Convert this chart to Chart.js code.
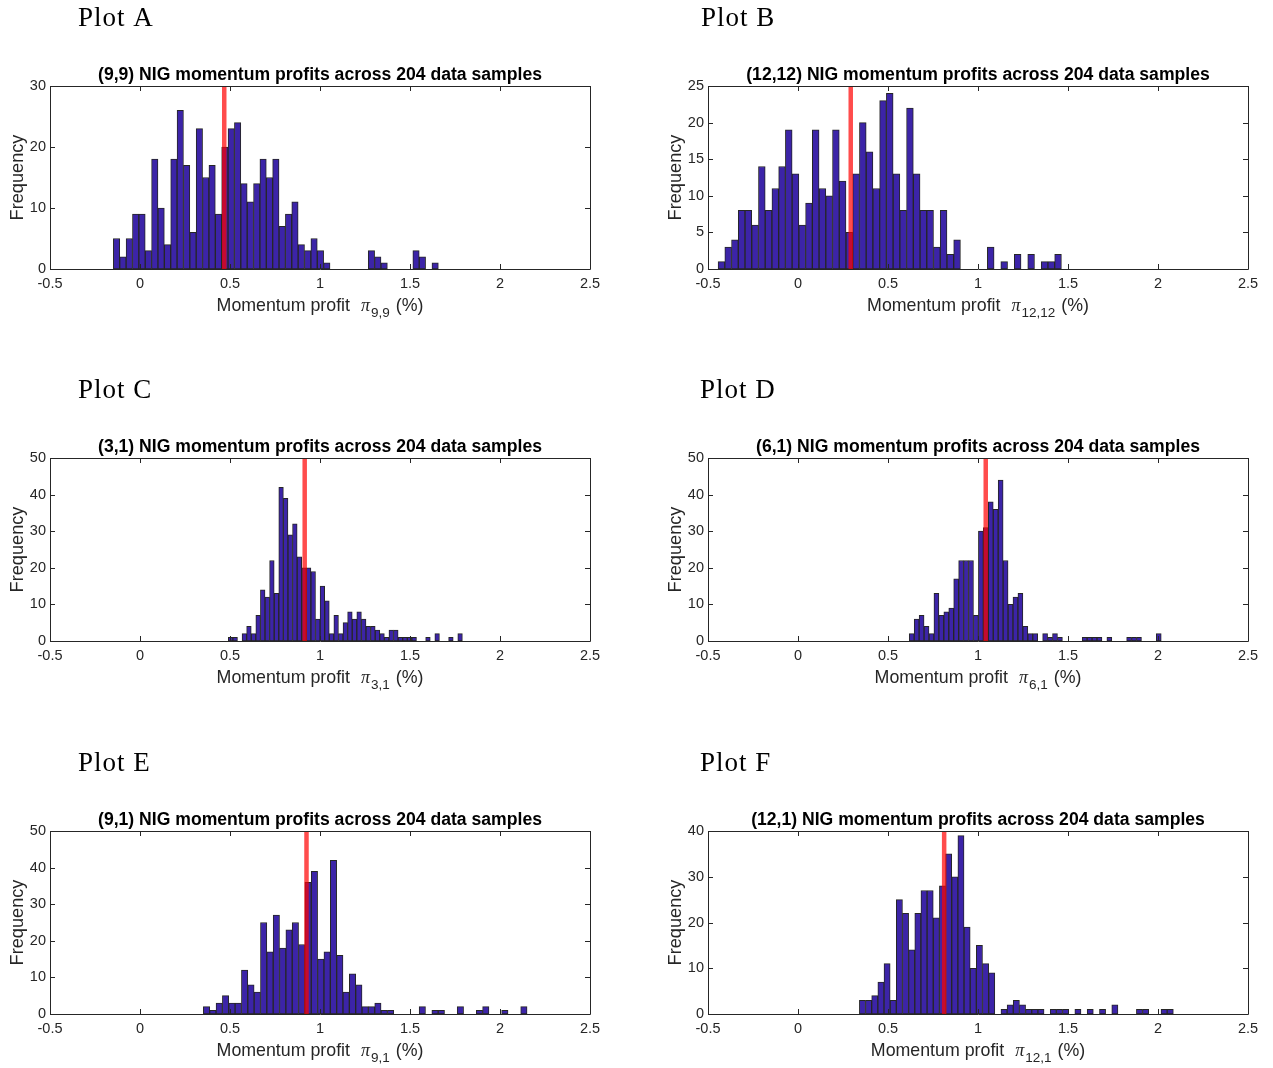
<!DOCTYPE html>
<html>
<head>
<meta charset="utf-8">
<title>NIG momentum profits</title>
<script src="https://cdn.jsdelivr.net/npm/chart.js@4.4.1/dist/chart.umd.min.js"></script>
<style>
  html, body { margin: 0; padding: 0; background: #fff; overflow: hidden; }
  body { width: 1273px; height: 1068px; position: relative; }
  canvas { position: absolute; }
</style>
</head>
<body>
<canvas id="plotA" width="636" height="323" style="left:0;top:0"></canvas>
<canvas id="plotB" width="615" height="323" style="left:658px;top:0"></canvas>
<canvas id="plotC" width="636" height="323" style="left:0;top:372px"></canvas>
<canvas id="plotD" width="615" height="323" style="left:658px;top:372px"></canvas>
<canvas id="plotE" width="636" height="323" style="left:0;top:745px"></canvas>
<canvas id="plotF" width="615" height="323" style="left:658px;top:745px"></canvas>
<script>
// bin counts (51 bins each), first bin edge, bin width and sample mean, all in %
const countsA = [5,2,5,9,9,3,18,10,4,18,26,17,6,23,15,17,9,20,23,24,14,11,14,18,15,18,7,9,11,4,3,5,3,1,0,0,0,0,0,0,3,2,1,0,0,0,0,3,2,0,1];
const countsB = [1,3,4,8,8,6,14,8,11,14,19,13,6,9,19,11,10,19,12,5,13,20,16,11,23,24,13,8,22,13,8,8,3,8,2,4,0,0,0,0,3,0,1,0,2,0,2,0,1,1,2];
const countsC = [1,1,0,2,4,2,7,14,12,22,13,42,39,29,32,23,20,20,19,6,15,11,2,7,2,5,8,6,8,6,4,4,3,2,1,3,3,1,1,1,1,0,0,1,0,2,0,0,1,0,2];
const countsD = [2,6,7,4,2,13,7,8,9,17,22,22,22,7,30,31,38,36,44,22,10,12,13,4,2,2,0,2,1,2,1,0,0,0,0,1,1,1,1,0,1,0,0,0,1,1,1,0,0,0,2];
const countsE = [2,1,3,5,3,3,12,8,6,25,17,27,18,23,25,19,36,39,15,17,42,16,6,11,8,2,2,3,1,1,0,0,0,0,2,0,1,1,0,0,2,0,0,1,2,0,0,1,0,0,2];
const countsF = [3,3,4,7,11,3,25,22,14,22,27,27,21,28,35,30,39,19,10,15,11,9,0,1,2,3,2,1,1,1,0,1,1,1,0,1,0,1,0,1,0,2,0,0,0,1,1,0,0,1,1];

const binStart = [-0.148, -0.444, 0.4905, 0.618, 0.352, 0.341];
const binWidth = [0.0354, 0.0374, 0.0255, 0.02745, 0.03526, 0.0342];
const means = [0.468, 0.293, 0.915, 1.043, 0.925, 0.812];

const pairs = ['9,9', '12,12', '3,1', '6,1', '9,1', '12,1'];
const plotNames = ['Plot A', 'Plot B', 'Plot C', 'Plot D', 'Plot E', 'Plot F'];
const yMax = [30, 25, 50, 50, 50, 40];
const yStep = [10, 5, 10, 10, 10, 10];
const xTicks = [-0.5, 0, 0.5, 1, 1.5, 2, 2.5];

const SANS = '"Liberation Sans", Arial, Helvetica, sans-serif';
const SERIF = '"Liberation Serif", "Times New Roman", serif';
const AXIS_GREY = '#262626';

// box, inward ticks on all four sides, title, labels
const matlabAxes = {
  id: 'matlabAxes',
  afterDraw(chart, args, o) {
    const { ctx, chartArea: a, scales: { x, y } } = chart;
    ctx.save();
    ctx.strokeStyle = AXIS_GREY;
    ctx.lineWidth = 1;
    ctx.beginPath();
    ctx.rect(a.left + 0.5, a.top + 0.5, a.right - a.left, a.bottom - a.top);
    x.ticks.forEach(t => {
      const px = Math.round(x.getPixelForValue(t.value)) + 0.5;
      ctx.moveTo(px, a.bottom); ctx.lineTo(px, a.bottom - 5);
      ctx.moveTo(px, a.top); ctx.lineTo(px, a.top + 5);
    });
    y.ticks.forEach(t => {
      const py = Math.round(y.getPixelForValue(t.value)) + 0.5;
      ctx.moveTo(a.left, py); ctx.lineTo(a.left + 5, py);
      ctx.moveTo(a.right, py); ctx.lineTo(a.right - 5, py);
    });
    ctx.stroke();

    const cx = (a.left + a.right) / 2;

    // panel caption
    ctx.fillStyle = '#000';
    ctx.font = '27px ' + SERIF;
    ctx.letterSpacing = '1px';
    ctx.textAlign = 'left';
    ctx.textBaseline = 'alphabetic';
    ctx.fillText(o.name, o.nameX, 26);
    ctx.letterSpacing = '0px';

    // title
    ctx.font = 'bold 17.6px ' + SANS;
    ctx.textAlign = 'center';
    ctx.textBaseline = 'middle';
    ctx.fillText('(' + o.pair + ') NIG momentum profits across 204 data samples', cx, 75);

    // y label
    ctx.fillStyle = AXIS_GREY;
    ctx.font = '18.2px ' + SANS;
    ctx.save();
    ctx.translate(18, (a.top + a.bottom) / 2);
    ctx.rotate(-Math.PI / 2);
    ctx.fillText('Frequency', 0, 0);
    ctx.restore();

    // x label: Momentum profit  π_{pair} (%)
    const parts = [
      { t: 'Momentum profit', f: '17.8px ' + SANS, dy: 0, gap: 11 },
      { t: 'π', f: 'italic 18px ' + SERIF, dy: 0, gap: 1 },
      { t: o.pair, f: '13.5px ' + SANS, dy: 6, gap: 6 },
      { t: '(%)', f: '17.8px ' + SANS, dy: 0, gap: 0 }
    ];
    let total = 0;
    parts.forEach(p => { ctx.font = p.f; p.w = ctx.measureText(p.t).width; total += p.w + p.gap; });
    let xx = cx - total / 2;
    ctx.textAlign = 'left';
    ctx.textBaseline = 'alphabetic';
    parts.forEach(p => {
      ctx.font = p.f;
      ctx.fillText(p.t, xx, 311 + p.dy);
      xx += p.w + p.gap;
    });
    ctx.restore();
  }
};

function histogram(id, i, counts, nameX, rightPad) {
  const bars = counts.map((c, k) => ({ x: binStart[i] + (k + 0.5) * binWidth[i], y: c }));
  const meanLine = [{ x: means[i], y: 0 }, { x: means[i], y: yMax[i] }];
  new Chart(document.getElementById(id), {
    type: 'bar',
    data: {
      datasets: [
        {
          type: 'line',
          data: meanLine,
          borderColor: 'rgba(255,0,0,0.7)',
          borderWidth: 4.5,
          pointRadius: 0,
          order: 0
        },
        {
          data: bars,
          backgroundColor: '#3c24a8',
          borderColor: '#262626',
          borderWidth: 1,
          borderSkipped: false,
          categoryPercentage: 1.0,
          barPercentage: 1.0,
          order: 1
        }
      ]
    },
    options: {
      responsive: false,
      animation: false,
      layout: { padding: { left: 0, right: rightPad, top: 86, bottom: 0 } },
      plugins: {
        legend: { display: false },
        tooltip: { enabled: false },
        matlabAxes: { name: plotNames[i], nameX: nameX, pair: pairs[i] }
      },
      scales: {
        x: {
          type: 'linear',
          offset: false,
          min: -0.5,
          max: 2.5,
          afterBuildTicks: s => { s.ticks = xTicks.map(v => ({ value: v })); },
          afterFit: s => { s.height = 54; },
          grid: { display: false, drawTicks: false },
          border: { display: false },
          ticks: {
            color: AXIS_GREY,
            padding: 6,
            font: { family: SANS, size: 14.5 },
            callback: v => String(v)
          }
        },
        y: {
          min: 0,
          max: yMax[i],
          afterFit: s => { s.width = 50; },
          grid: { display: false, drawTicks: false },
          border: { display: false },
          ticks: { stepSize: yStep[i], color: AXIS_GREY, padding: 4, font: { family: SANS, size: 14.5 } }
        }
      }
    },
    plugins: [matlabAxes]
  });
}

histogram('plotA', 0, countsA, 78, 46);
histogram('plotB', 1, countsB, 43, 25);
histogram('plotC', 2, countsC, 78, 46);
histogram('plotD', 3, countsD, 42, 25);
histogram('plotE', 4, countsE, 78, 46);
histogram('plotF', 5, countsF, 42, 25);
</script>
</body>
</html>
